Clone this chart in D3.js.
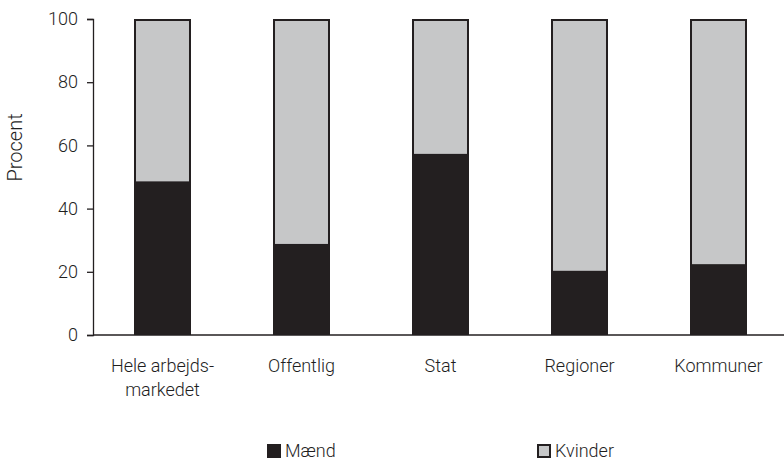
<!DOCTYPE html>
<html>
<head>
<meta charset="utf-8">
<script src="https://cdn.jsdelivr.net/npm/d3@7"></script>
<style>
  body { margin: 0; background: #fff; }
  text { font-family: Roboto, "DejaVu Sans", sans-serif; font-weight: 300; }
</style>
</head>
<body>
<div id="chart"></div>
<script>
const categories = [['Hele arbejds-', 'markedet'], ['Offentlig'], ['Stat'], ['Regioner'], ['Kommuner']];
const maend = [48.3, 28.5, 57, 20, 22.1];
const kvinder = maend.map(v => 100 - v);
const seriesNames = ['Mænd', 'Kvinder'];
const yTicks = [0, 20, 40, 60, 80, 100];

const width = 784;
const height = 461;
const margin = { top: 19, right: 0, bottom: 126, left: 93 };
const colors = { dark: '#231f20', light: '#c6c7c8', text: '#1e1e1e' };

const svg = d3.select('#chart')
  .append('svg')
    .attr('width', width)
    .attr('height', height);

const keys = categories.map(d => d.join(' '));

const x = d3.scaleBand()
  .domain(keys)
  .range([margin.left, 788])
  .paddingInner(0.59)
  .paddingOuter(0.295);

const y = d3.scaleLinear()
  .domain([0, 100])
  .range([height - margin.bottom, margin.top]);

// bars: kvinder stacked on top of mænd
const bars = svg.append('g');
keys.forEach((k, i) => {
  bars.append('rect')
    .attr('x', x(k) + 1)
    .attr('y', y(100) + 1)
    .attr('width', x.bandwidth() - 2)
    .attr('height', y(100 - kvinder[i]) - y(100) - 1)
    .attr('fill', colors.light)
    .attr('stroke', colors.dark)
    .attr('stroke-width', 2);
  bars.append('rect')
    .attr('x', x(k))
    .attr('y', y(maend[i]))
    .attr('width', x.bandwidth())
    .attr('height', y(0) - y(maend[i]))
    .attr('fill', colors.dark);
});

// y axis
const axisY = svg.append('g')
  .attr('transform', `translate(${margin.left}, 0)`)
  .call(d3.axisLeft(y).tickValues(yTicks).tickSize(6).tickPadding(9));
axisY.select('.domain').attr('stroke', colors.dark).attr('stroke-width', 1.3);
axisY.selectAll('.tick line').attr('stroke', colors.dark).attr('stroke-width', 1.3);
axisY.selectAll('.tick text')
  .style('font-family', 'Roboto, sans-serif')
  .style('font-weight', 300)
  .style('font-size', '18px')
  .style('fill', colors.text);

// x axis line
svg.append('line')
  .attr('x1', margin.left)
  .attr('x2', width)
  .attr('y1', y(0))
  .attr('y2', y(0))
  .attr('stroke', colors.dark)
  .attr('stroke-width', 1.3);

// category labels
categories.forEach((lines, i) => {
  const cx = x(keys[i]) + x.bandwidth() / 2;
  const t = svg.append('text')
    .attr('x', cx)
    .attr('y', 372)
    .attr('text-anchor', 'middle')
    .style('font-size', '18px')
    .style('fill', colors.text);
  lines.forEach((l, j) => {
    t.append('tspan')
      .attr('x', cx)
      .attr('dy', j === 0 ? 0 : 24)
      .text(l);
  });
});

// y label
svg.append('text')
  .attr('transform', 'translate(22, 147.5) rotate(-90)')
  .attr('text-anchor', 'middle')
  .style('font-size', '20px')
  .style('fill', colors.text)
  .text('Procent');

// legend
const legend = svg.append('g');
const legendX = [267, 537];
seriesNames.forEach((name, i) => {
  legend.append('rect')
    .attr('x', legendX[i] + (i ? 1 : 0))
    .attr('y', 444 + (i ? 1 : 0))
    .attr('width', i ? 12 : 14)
    .attr('height', i ? 12 : 14)
    .attr('fill', i ? colors.light : colors.dark)
    .attr('stroke', i ? colors.dark : 'none')
    .attr('stroke-width', 2);
  legend.append('text')
    .attr('x', legendX[i] + 18)
    .attr('y', 457)
    .style('font-size', '18px')
    .style('fill', colors.text)
    .text(name);
});
</script>
</body>
</html>
